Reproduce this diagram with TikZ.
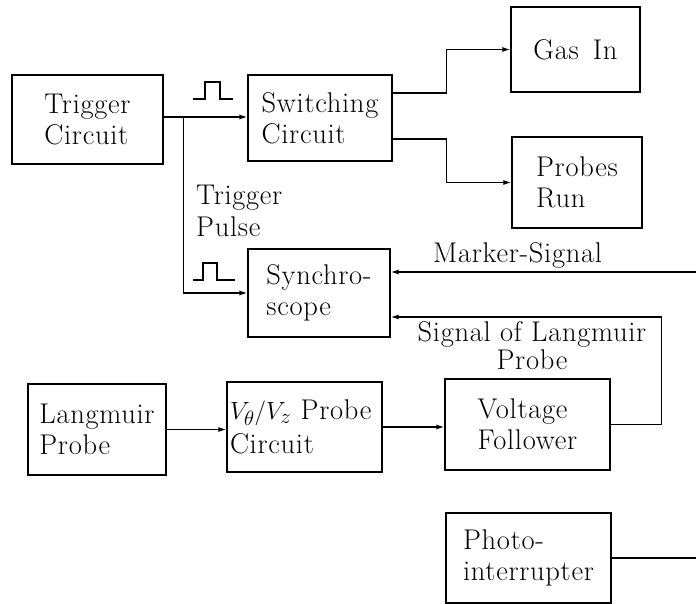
\documentclass[tikz,border=0pt]{standalone}
\usepackage{fontspec}
\setmainfont{Latin Modern Roman}[LetterSpace=2.5]
\usetikzlibrary{arrows.meta,calc}
\begin{document}
\begin{tikzpicture}[x=1pt,y=-1pt,
  every node/.style={font=\fontsize{28.5}{31}\selectfont},
  blk/.style={draw, line width=1.3pt, inner sep=0pt, align=left},
  conn/.style={line width=1.3pt},
  arr/.style={conn, -{Latex[length=8pt,width=5pt]}},
  pulse/.style={line width=1.1pt},
  lbl/.style={inner sep=0pt}]
\useasboundingbox (0,0) rectangle (696,604);
% blocks
\node[blk, minimum width=151pt, minimum height=89pt] (trig) at (87.5,119.5) {Trigger\\Circuit};
\node[blk, minimum width=144pt, minimum height=86pt] (sw) at (320,118) {Switching\\Circuit};
\node[blk, minimum width=129pt, minimum height=85pt] (gas) at (575.5,49.5) {Gas\, In};
\node[blk, minimum width=130pt, minimum height=91pt] (probes) at (577,182.5) {Probes\\Run};
\node[blk, minimum width=142pt, minimum height=88pt] (sync) at (319,293) {Synchro-\\scope};
\node[blk, minimum width=138pt, minimum height=91pt] (lang) at (97,429.5) {Langmuir\\Probe};
\node[blk, text width=149pt, inner xsep=3pt, minimum height=90pt, font=\fontsize{28.5}{34}\selectfont] (vprobe) at (304.5,427) {$V_\theta/V_z$ Probe\\Circuit};
\node[blk, minimum width=165pt, minimum height=91pt] (vf) at (527.5,424.5) {Voltage\\Follower};
\node[blk, minimum width=165pt, minimum height=90pt] (photo) at (528.5,558) {Photo-\\interrupter};
% free ends
\coordinate (br) at ($(trig.east)+(20,-2.5)$);
\coordinate (rim) at (696,0);
\coordinate (mk) at (696,272);
% connectors
\draw[arr] ([yshift=2.5pt]trig.east) -- ([yshift=2.5pt]trig.east -| sw.west);
\draw[arr] (br) |- (sync.west);
\draw[arr] ([yshift=25pt]sw.east) -- ++(54,0) |- (gas.west);
\draw[arr] ([yshift=-21pt]sw.east) -- ++(54,0) |- (probes.west);
\draw[arr] (mk) -- (mk -| sync.east);
\draw[arr] (vf.east) -- ++(51,0) |- ([yshift=-24pt]sync.east);
\draw[arr] (lang.east) -- (lang.east -| vprobe.west);
\draw[arr] (vprobe.east) -- (vprobe.east -| vf.west);
\draw[conn] (photo.east) -- (photo.east -| rim);
% pulse symbols
\draw[pulse] (193,99) -- (205,99) -- (205,82) -- (220,82) -- (220,99) -- (233,99);
\draw[pulse] (193,280) -- (203,280) -- (203,263) -- (217,263) -- (217,280) -- (235,280);
% labels
\node[lbl, align=left, anchor=north west, font=\fontsize{28.5}{32}\selectfont] (tp) at (196,185) {Trigger\\Pulse};
\node[lbl, anchor=base west] (ms) at (433,262) {Marker-Signal};
\node[lbl, align=center, anchor=north, font=\fontsize{28.5}{28}\selectfont] (sl) at (532,321) {Signal of Langmuir\\Probe};
\end{tikzpicture}
\end{document}
